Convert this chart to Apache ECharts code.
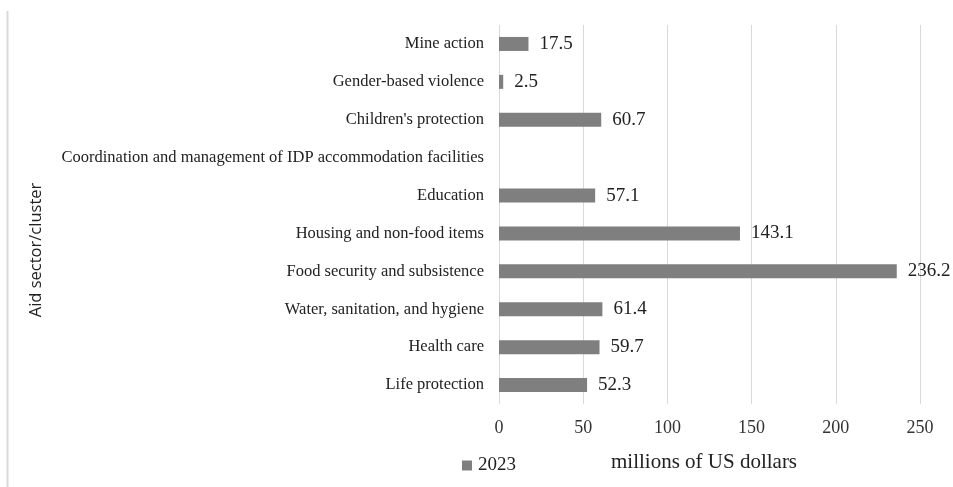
<!DOCTYPE html>
<html>
<head>
<meta charset="utf-8">
<style>
  html, body { margin: 0; padding: 0; background: #fff; }
  #chart { width: 953px; height: 487px; }
</style>
<script src="https://cdn.jsdelivr.net/npm/echarts@6/dist/echarts.min.js"></script>
</head>
<body>
<div id="chart"></div>
<script>
// Aid sectors, listed bottom to top
const sectors = [
  'Life protection',
  'Health care',
  'Water, sanitation, and hygiene',
  'Food security and subsistence',
  'Housing and non-food items',
  'Education',
  'Coordination and management of IDP accommodation facilities',
  "Children's protection",
  'Gender-based violence',
  'Mine action'
];
// Funding in 2023, millions of US dollars (null = no funding reported)
const funding2023 = [52.3, 59.7, 61.4, 236.2, 143.1, 57.1, null, 60.7, 2.5, 17.5];
const seriesName = '2023';
const xTicks = [0, 50, 100, 150, 200, 250];

const serif = '"Liberation Serif", "Times New Roman", serif';
const chart = echarts.init(document.getElementById('chart'));
chart.setOption({
  animation: false,
  backgroundColor: '#ffffff',
  grid: { left: 499, right: 33, top: 25, bottom: 83, containLabel: false },
  legend: {
    data: [seriesName],
    left: 457, top: 451,
    itemWidth: 10, itemHeight: 10, itemGap: 6,
    icon: 'rect',
    textStyle: { fontFamily: serif, fontSize: 19, color: '#222', padding: [0, 0, 0, 1] }
  },
  xAxis: {
    type: 'value',
    min: xTicks[0], max: xTicks[xTicks.length - 1], interval: 50,
    name: 'millions of US dollars',
    nameLocation: 'middle', nameGap: 48,
    nameTextStyle: { fontFamily: serif, fontSize: 21, color: '#222', padding: [0, 11, 0, 0] },
    axisLine: { show: false },
    axisTick: { show: false },
    axisLabel: { fontFamily: serif, fontSize: 18, color: '#333', margin: 15 },
    splitLine: { show: true, lineStyle: { color: '#d9d9d9', width: 1 } }
  },
  yAxis: {
    type: 'category',
    data: sectors,
    axisLine: { show: false },
    axisTick: { show: false },
    axisLabel: { fontFamily: serif, fontSize: 16.5, color: '#222', margin: 15 },
    splitLine: { show: false }
  },
  series: [{
    name: seriesName,
    type: 'bar',
    data: funding2023,
    barWidth: 14,
    itemStyle: { color: '#7f7f7f' },
    label: {
      show: true, position: 'right', distance: 11,
      fontFamily: serif, fontSize: 19, color: '#222',
      formatter: p => (p.value == null ? '' : p.value.toFixed(1))
    }
  }],
  graphic: [
    {
      // thin frame line down the left edge
      type: 'line',
      shape: { x1: 7.5, y1: 11, x2: 7.5, y2: 487 },
      style: { stroke: '#d9d9d9', lineWidth: 2 },
      silent: true
    },
    {
      // vertical axis title
      type: 'text',
      x: 36, y: 250,
      rotation: Math.PI / 2,
      style: {
        text: 'Aid sector/cluster',
        font: '16.5px "Open Sans", "Liberation Sans", sans-serif',
        fill: '#222',
        align: 'center',
        verticalAlign: 'middle'
      },
      silent: true
    }
  ]
});
</script>
</body>
</html>
